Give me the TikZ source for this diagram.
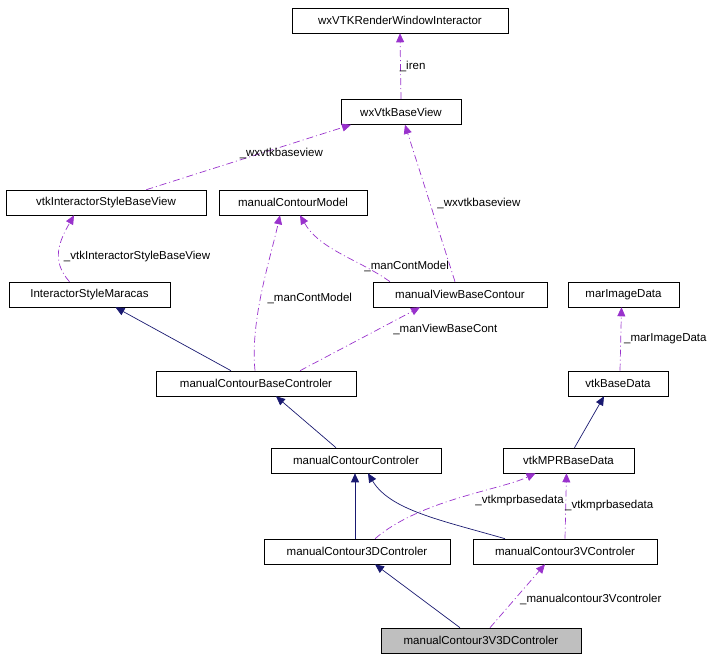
\documentclass[tikz,border=0pt]{standalone}
\usepackage{fontspec}
\setmainfont{Liberation Sans}
\usetikzlibrary{arrows.meta}
\begin{document}
\begin{tikzpicture}[x=1pt,y=-1pt,
  every node/.style={font=\fontsize{11.5}{13}\selectfont},
  box/.style={draw=black,fill=white,minimum height=25pt,inner sep=0pt,line width=0.6pt},
  inh/.style={draw={rgb,255:red,25;green,25;blue,112},line width=0.7pt,-{Triangle[length=9pt,width=8pt]}},
  use/.style={draw={rgb,255:red,153;green,50;blue,204},line width=0.7pt,dash pattern=on 7pt off 3pt on 1pt off 3pt,-{Triangle[length=9pt,width=8pt]}},
  lab/.style={inner sep=1pt}]
\useasboundingbox (0,0) rectangle (728,663);
\node[box,minimum width=216pt] (ri) at (400,20.5) {wxVTKRenderWindowInteractor};
\node[box,minimum width=120pt] (bv) at (401,112) {wxVtkBaseView};
\node[box,minimum width=200pt] (isb) at (106,202.5) {vtkInteractorStyleBaseView};
\node[box,minimum width=148pt] (mcm) at (293,202.5) {manualContourModel};
\node[box,minimum width=161pt] (ism) at (89.5,294.5) {InteractorStyleMaracas};
\node[box,minimum width=174pt] (mvb) at (460,294.5) {manualViewBaseContour};
\node[box,minimum width=111pt] (mid) at (623.5,294.5) {marImageData};
\node[box,minimum width=200pt] (mcb) at (256,383.5) {manualContourBaseControler};
\node[box,minimum width=100pt] (vbd) at (618,383.5) {vtkBaseData};
\node[box,minimum width=170pt] (mcc) at (356,460.5) {manualContourControler};
\node[box,minimum width=131pt] (mpr) at (568.5,460.5) {vtkMPRBaseData};
\node[box,minimum width=186pt] (c3d) at (357,551.5) {manualContour3DControler};
\node[box,minimum width=184pt] (c3v) at (565,551.5) {manualContour3VControler};
\node[box,minimum width=200pt,fill={rgb,255:red,191;green,191;blue,191}] (c33) at (481,640.5) {manualContour3V3DControler};

\draw[use] (bv.north) -- (ri.south) node[lab,midway,right,xshift=-2pt] {\_iren};
\draw[use] (isb.north east) ++(-60,0) -- ([xshift=-50pt]bv.south) node[lab,pos=0.45,above right] {\_wxvtkbaseview};
\draw[use] ([xshift=-5pt]mvb.north) -- ([xshift=4pt]bv.south) node[lab,pos=0.5,right,xshift=6pt] {\_wxvtkbaseview};
\draw[use] ([xshift=-20pt]ism.north) .. controls (50,260) and (60,240) .. ([xshift=-32pt]isb.south) node[lab,pos=0.4,right,xshift=4pt] {\_vtkInteractorStyleBaseView};
\draw[use] ([xshift=-70pt]mvb.north) .. controls (360,260) and (320,250) .. ([xshift=7pt]mcm.south) node[lab,pos=0.3,right,xshift=2pt,yshift=-2pt] {\_manContModel};
\draw[use] ([xshift=-1pt]mcb.north) .. controls (250,320) and (270,260) .. ([xshift=-13pt]mcm.south) node[lab,pos=0.45,right,xshift=6pt] {\_manContModel};
\draw[use] ([xshift=44pt]mcb.north) -- ([xshift=-40pt]mvb.south) node[lab,pos=0.75,below right,xshift=2pt] {\_manViewBaseCont};
\draw[inh] ([xshift=-25pt]mcb.north) -- ([xshift=26pt]ism.south);
\draw[inh] ([xshift=-20pt]mcc.north) -- ([xshift=20pt]mcb.south);
\draw[inh] ([xshift=6pt]mpr.north) -- ([xshift=-14pt]vbd.south);
\draw[use] ([xshift=2pt]vbd.north) -- ([xshift=-2pt]mid.south) node[lab,midway,right,xshift=2pt] {\_marImageData};
\draw[inh] ([xshift=-2pt]c3d.north) -- ([xshift=-1pt]mcc.south);
\draw[inh] ([xshift=-60pt]c3v.north) .. controls (440,520) and (390,510) .. ([xshift=12pt]mcc.south);
\draw[use] ([xshift=18pt]c3d.north) .. controls (420,500) and (500,490) .. ([xshift=-33pt]mpr.south) node[lab,pos=0.62,below right,xshift=-6pt,yshift=-2pt] {\_vtkmprbasedata};
\draw[use] (c3v.north) -- ([xshift=-2pt]mpr.south) node[lab,midway,right,xshift=-2pt] {\_vtkmprbasedata};
\draw[inh] ([xshift=-21pt]c33.north) -- ([xshift=18pt]c3d.south);
\draw[use] ([xshift=9pt]c33.north) -- ([xshift=-20pt]c3v.south) node[lab,pos=0.45,right,xshift=4pt] {\_manualcontour3Vcontroler};
\end{tikzpicture}
\end{document}
